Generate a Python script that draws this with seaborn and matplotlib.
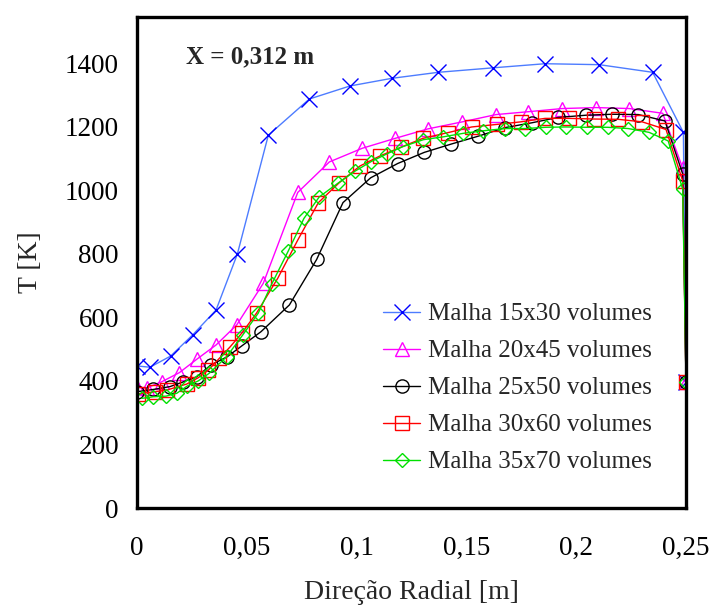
import numpy as np
import pandas as pd
import matplotlib
matplotlib.use("Agg")
import matplotlib.pyplot as plt
import seaborn as sns

# Radial temperature profiles at X = 0,312 m for five grids
x_15 = [0.0, 0.0059, 0.0153, 0.0254, 0.0360, 0.0457, 0.0598, 0.0785, 0.0970, 0.1160,
        0.1372, 0.1620, 0.1858, 0.2105, 0.2348, 0.2488, 0.2500]
T_15 = [447, 443, 478, 545, 623, 799, 1173, 1287, 1328, 1352,
        1371, 1385, 1398, 1395, 1371, 1182, 395]

x_20 = [0.0, 0.0044, 0.0112, 0.0193, 0.0272, 0.0360, 0.0454, 0.0575, 0.0732, 0.0876,
        0.1026, 0.1175, 0.1325, 0.1481, 0.1635, 0.1782, 0.1937, 0.2090, 0.2242, 0.2394,
        0.2485, 0.2500]
T_20 = [380, 378, 397, 426, 468, 513, 576, 707, 993, 1089,
        1132, 1163, 1193, 1215, 1238, 1247, 1257, 1260, 1257, 1242,
        1069, 395]

x_25 = [0.0, 0.0074, 0.0150, 0.0211, 0.0272, 0.0336, 0.0411, 0.0477, 0.0565, 0.0694,
        0.0818, 0.0938, 0.1064, 0.1187, 0.1308, 0.1430, 0.1554, 0.1676, 0.1797, 0.1918,
        0.2045, 0.2164, 0.2283, 0.2404, 0.2485, 0.2500]
T_25 = [366, 373, 382, 397, 413, 450, 476, 510, 555, 639,
        782, 961, 1039, 1084, 1119, 1145, 1170, 1197, 1212, 1229,
        1236, 1239, 1238, 1218, 1051, 395]

x_30 = [0.0006, 0.0082, 0.0135, 0.0226, 0.0279, 0.0325, 0.0375, 0.0424, 0.0477, 0.0545,
        0.0641, 0.0732, 0.0826, 0.0920, 0.1015, 0.1107, 0.1201, 0.1301, 0.1415, 0.1524,
        0.1638, 0.1747, 0.1858, 0.1967, 0.2081, 0.2192, 0.2301, 0.2409, 0.2485, 0.2500]
T_30 = [359, 366, 371, 390, 410, 434, 471, 507, 550, 614,
        723, 843, 961, 1023, 1076, 1108, 1135, 1163, 1181, 1199,
        1207, 1215, 1226, 1226, 1224, 1223, 1215, 1191, 1029, 395]

x_35 = [0.0021, 0.0074, 0.0132, 0.0181, 0.0229, 0.0279, 0.0329, 0.0408, 0.0481, 0.0552,
        0.0613, 0.0689, 0.0760, 0.0830, 0.0917, 0.0993, 0.1066, 0.1140, 0.1210, 0.1304,
        0.1395, 0.1486, 0.1577, 0.1676, 0.1767, 0.1861, 0.1954, 0.2048, 0.2143, 0.2237,
        0.2332, 0.2419, 0.2485, 0.2500]
T_35 = [345, 350, 352, 361, 384, 400, 424, 476, 544, 613,
        704, 809, 911, 979, 1023, 1060, 1090, 1115, 1137, 1159,
        1168, 1179, 1187, 1194, 1194, 1198, 1199, 1198, 1198, 1194,
        1182, 1155, 1003, 395]

labels = ["Malha 15x30 volumes", "Malha 20x45 volumes", "Malha 25x50 volumes",
          "Malha 30x60 volumes", "Malha 35x70 volumes"]
x_ticks = [0, 0.05, 0.1, 0.15, 0.2, 0.25]
x_ticklabels = ["0", "0,05", "0,1", "0,15", "0,2", "0,25"]
y_ticks = [0, 200, 400, 600, 800, 1000, 1200, 1400]

sns.set_style("white")
plt.rcParams["font.family"] = ["Liberation Serif", "DejaVu Serif"]

fig = plt.figure(figsize=(7.12, 6.05), dpi=100)
ax = fig.add_axes([0.1924, 0.1603, 0.7711, 0.8116])

series = [
    (x_15, T_15, "#4D7CFF", "#0000FF", "x", 11),
    (x_20, T_20, "#FF00FF", "#FF00FF", "^", 10),
    (x_25, T_25, "#000000", "#000000", "o", 9.5),
    (x_30, T_30, "#FF0000", "#FF0000", "s", 9.5),
    (x_35, T_35, "#00E000", "#00E000", "D", 7.5),
]

for (xs, ts, lc, mc, mk, ms), lab in zip(series, labels):
    df = pd.DataFrame({"x": xs, "T": ts})
    sns.lineplot(data=df, x="x", y="T", ax=ax, sort=False, estimator=None,
                 color=lc, lw=1.0, marker=mk, markersize=ms,
                 markerfacecolor="none", markeredgecolor=mc, markeredgewidth=1.0,
                 label=lab)

ax.set_xlim(0, 0.25)
ax.set_ylim(0, 1545)
ax.set_xticks(x_ticks)
ax.set_xticklabels(x_ticklabels)
ax.set_yticks(y_ticks)
ax.tick_params(axis="both", direction="out", length=8, width=1, colors="black",
               labelsize=19.5)
ax.tick_params(axis="x", pad=12)
ax.tick_params(axis="y", pad=5)

for s in ax.spines.values():
    s.set_linewidth(2.4)
    s.set_color("black")
ax.grid(False)

ax.set_xlabel("Direção Radial [m]", fontsize=20, labelpad=14)
ax.set_ylabel("T [K]", fontsize=20, labelpad=16)

ax.text(0.089, 0.918, "X = 0,312 m", transform=ax.transAxes, fontsize=18,
        fontweight="bold", va="center", ha="left")

ax.legend(loc="upper left", bbox_to_anchor=(0.448, 0.418), frameon=False,
          fontsize=18, handlelength=1.5, handletextpad=0.3, labelspacing=0.58,
          borderpad=0, borderaxespad=0)

fig.savefig("out.png", dpi=100)
